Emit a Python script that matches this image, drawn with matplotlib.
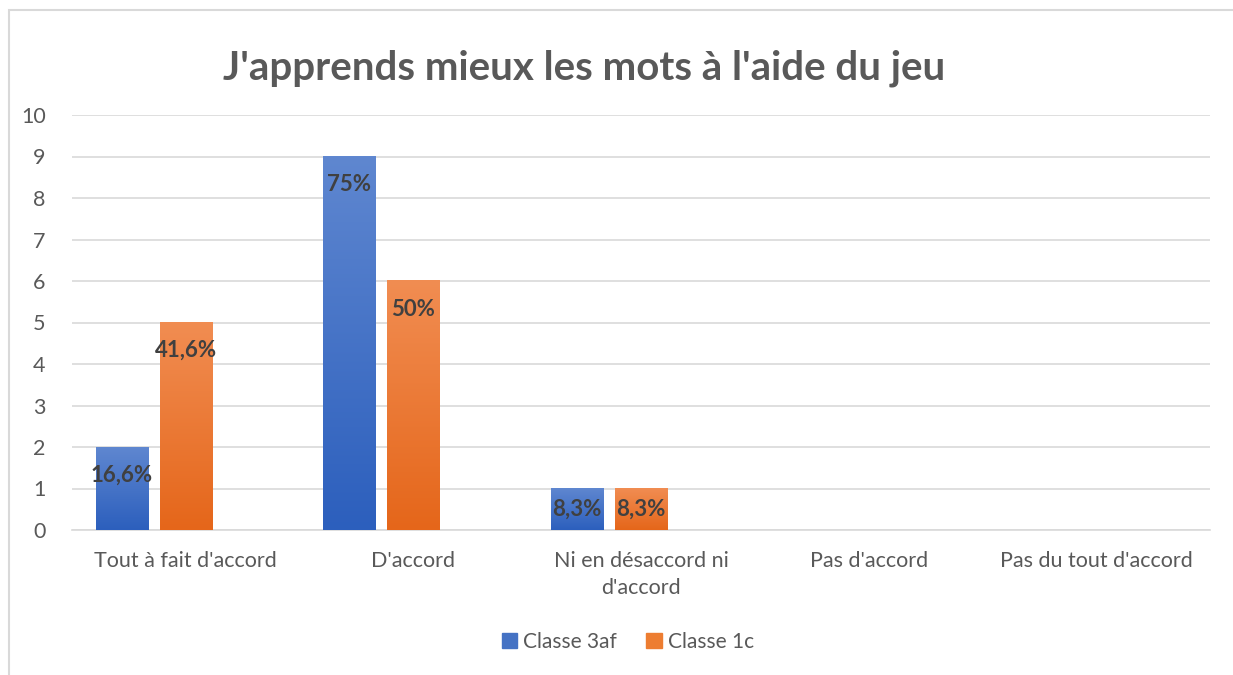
import numpy as np
import matplotlib
matplotlib.use("Agg")
from matplotlib import pyplot as plt
from matplotlib.colors import LinearSegmentedColormap
from matplotlib.patches import Rectangle

categories = ["Tout à fait d'accord", "D'accord", "Ni en désaccord ni\nd'accord",
              "Pas d'accord", "Pas du tout d'accord"]
series_names = ["Classe 3af", "Classe 1c"]
classe_3af = [2, 9, 1, 0, 0]
classe_1c = [5, 6, 1, 0, 0]
labels_3af = ["16,6%", "75%", "8,3%", "", ""]
labels_1c = ["41,6%", "50%", "8,3%", "", ""]
title = "J'apprends mieux les mots à l'aide du jeu"

plt.rcParams['font.family'] = ['Lato', 'DejaVu Sans']

blue_cmap = LinearSegmentedColormap.from_list("b", ["#2c5fbd", "#5f87d0"])
orange_cmap = LinearSegmentedColormap.from_list("o", ["#e5661a", "#f18d52"])

fig = plt.figure(figsize=(12.33, 6.75), dpi=100)
fig.patches.append(Rectangle((9 / 1233, -0.1), 1.2, 1 - 10 / 675 + 0.1,
                             transform=fig.transFigure, fill=False,
                             edgecolor="#d9d9d9", linewidth=1.5))
ax = fig.add_axes([72 / 1233, 1 - 530 / 675, 1138 / 1233, 415 / 675])

x = np.arange(len(categories))
w = 0.2285
step = 0.281
ylim = (0, 10)

for vals, labs, off, cmap, name in [
        (classe_3af, labels_3af, -step, blue_cmap, series_names[0]),
        (classe_1c, labels_1c, 0, orange_cmap, series_names[1])]:
    bars = ax.bar(x + off, vals, width=w, color="none", zorder=3, label=name)
    for b, v, lab in zip(bars, vals, labs):
        if v <= 0:
            continue
        x0, x1 = b.get_x(), b.get_x() + b.get_width()
        grad = np.linspace(0, 1, 256).reshape(-1, 1)
        ax.imshow(grad, cmap=cmap, origin="lower", aspect="auto",
                  extent=(x0, x1, 0, v), zorder=3)
        ly = v - min(0.675, v / 2)
        ax.text(b.get_x() + b.get_width() / 2, ly, lab, ha="center", va="center",
                fontsize=16, fontweight="bold", color="#404040", zorder=5)

ax.set_xlim(-0.5, len(categories) - 0.5)
ax.set_ylim(*ylim)
ax.set_yticks(range(0, 11))
ax.set_xticks(x)
ax.set_xticklabels(categories, linespacing=1.45)
ax.grid(axis="y", color="#d9d9d9", linewidth=1.2, zorder=0)
ax.set_axisbelow(True)
for s in ["top", "right", "left"]:
    ax.spines[s].set_visible(False)
ax.spines["bottom"].set_color("#d9d9d9")
ax.spines["bottom"].set_linewidth(1.2)
ax.tick_params(axis="both", length=0, labelsize=15.5, colors="#595959")
ax.tick_params(axis="x", pad=15)
ax.tick_params(axis="y", pad=19)

fig.text(584 / 1233, 1 - 68 / 675, title, ha="center", va="center",
         fontsize=29, fontweight="bold", color="#595959")

handles = [Rectangle((0, 0), 1, 1, color="#4472c4"), Rectangle((0, 0), 1, 1, color="#ed7d31")]
fig.legend(handles, series_names, loc="center", bbox_to_anchor=(628 / 1233, 1 - 642 / 675),
           ncol=2, frameon=False, fontsize=15, labelcolor="#595959",
           handlelength=0.75, handleheight=0.75, handletextpad=0.3, columnspacing=1.4)

fig.savefig("out.png", dpi=100)
